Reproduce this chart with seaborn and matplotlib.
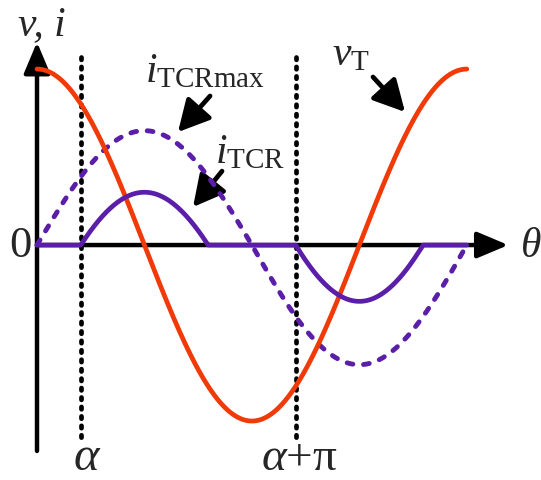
import numpy as np
import pandas as pd
import matplotlib
matplotlib.use("Agg")
import matplotlib.pyplot as plt
import seaborn as sns

# Firing angle and waveform amplitudes (v_T peak = 1)
alpha = 0.64
v_amp = 1.0
i_max_amp = [0.65, 0.68]      # positive / negative half-cycle of i_TCRmax
i_tcr_peak = [0.30, 0.32]     # positive / negative half-cycle of i_TCR

# Text labels
axis_y_label = "v, i"
axis_x_label = r"$\theta$"
zero_label = "0"
tick_labels = [r"$\alpha$", r"$\alpha{+}\mathrm{\pi}$"]
curve_labels = {"imax": r"$i_{\mathrm{TCRmax}}$",
                "itcr": r"$i_{\mathrm{TCR}}$",
                "vt": r"$v_{\mathrm{T}}$"}

ORANGE = "#F03A08"
PURPLE = "#5A1EA8"

sns.set_theme(style="white")
plt.rcParams["font.family"] = ["Liberation Serif", "DejaVu Serif"]
plt.rcParams["mathtext.fontset"] = "custom"
plt.rcParams["mathtext.rm"] = "Liberation Serif"
plt.rcParams["mathtext.it"] = "Liberation Serif:italic"

theta = np.linspace(0, 2 * np.pi, 800)
s = np.sin(theta)
sa = np.sin(alpha)

v_t = v_amp * np.cos(theta)
i_max = np.where(s >= 0, i_max_amp[0] * s, i_max_amp[1] * s)
pos = (theta > alpha) & (theta < np.pi - alpha)
neg = (theta > np.pi + alpha) & (theta < 2 * np.pi - alpha)
i_tcr = np.zeros_like(theta)
i_tcr[pos] = i_tcr_peak[0] * (s[pos] - sa) / (1 - sa)
i_tcr[neg] = i_tcr_peak[1] * (s[neg] + sa) / (1 - sa)

df = pd.DataFrame({"theta": theta, "v_t": v_t, "i_max": i_max, "i_tcr": i_tcr})

fig = plt.figure(figsize=(5.41, 4.81), dpi=100)
ax = fig.add_axes([0, 0, 1, 1])
ax.set_xlim(-0.541, 7.368)
ax.set_ylim(-1.335, 1.398)
ax.axis("off")

# Axes with arrow heads
arrow_kw = dict(arrowstyle="-|>,head_length=0.95,head_width=0.4",
                color="black", lw=3.2, mutation_scale=20, shrinkA=0, shrinkB=0)
ax.annotate("", xy=(0, 1.153), xytext=(0, -1.17), arrowprops=arrow_kw, zorder=2)
ax.annotate("", xy=(6.89, 0), xytext=(0, 0), arrowprops=arrow_kw, zorder=2)

# Dotted markers at alpha and alpha + pi
for xv in (alpha, alpha + np.pi):
    ax.plot([xv, xv], [1.068, -1.13], color="black", lw=3.4,
            linestyle=(0, (0.5, 1.5)), dash_capstyle="round", zorder=3)

sns.lineplot(data=df, x="theta", y="i_max", ax=ax, color=PURPLE, lw=3.5,
             linestyle=(0, (1.2, 2.2)), dash_capstyle="round", zorder=4)
sns.lineplot(data=df, x="theta", y="v_t", ax=ax, color=ORANGE, lw=3.4, zorder=5)
sns.lineplot(data=df, x="theta", y="i_tcr", ax=ax, color=PURPLE, lw=3.4, zorder=6)
ax.set_xlabel("")
ax.set_ylabel("")

# Labels
fs = 30
ax.text(-0.278, 1.199, axis_y_label, fontsize=fs, style="italic",
        ha="left", va="baseline")
ax.text(-0.08, -0.06, zero_label, fontsize=fs + 2, ha="right", va="baseline")
ax.text(7.06, -0.06, axis_x_label, fontsize=fs, ha="left", va="baseline")
ax.text(alpha + 0.1, -1.275, tick_labels[0], fontsize=fs + 5, ha="center", va="baseline")
ax.text(alpha + np.pi + 0.06, -1.275, tick_labels[1], fontsize=fs + 4,
        ha="center", va="baseline")
ax.text(1.579, 0.932, curve_labels["imax"], fontsize=fs, ha="left", va="baseline")
ax.text(2.602, 0.472, curve_labels["itcr"], fontsize=fs, ha="left", va="baseline")
ax.text(4.313, 1.028, curve_labels["vt"], fontsize=fs, ha="left", va="baseline")

# Pointer arrows
ptr_kw = dict(arrowstyle="-|>,head_length=0.95,head_width=0.5",
              color="black", lw=3.4, mutation_scale=20, shrinkA=0, shrinkB=0)
ax.annotate("", xy=(2.061, 0.642), xytext=(2.53, 0.847), arrowprops=ptr_kw)
ax.annotate("", xy=(2.281, 0.216), xytext=(2.705, 0.420), arrowprops=ptr_kw)
ax.annotate("", xy=(5.380, 0.756), xytext=(4.912, 0.955), arrowprops=ptr_kw)

fig.savefig("out.png", dpi=100)
